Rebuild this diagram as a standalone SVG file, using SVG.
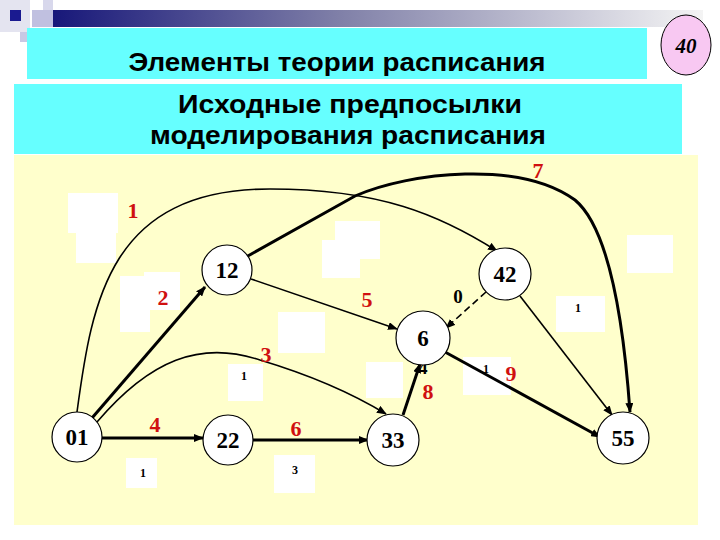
<svg xmlns="http://www.w3.org/2000/svg" width="720" height="540" viewBox="0 0 720 540">
<defs>
<linearGradient id="bar" x1="0" y1="0" x2="1" y2="0">
<stop offset="0" stop-color="#141478"/>
<stop offset="0.45" stop-color="#8080a8"/>
<stop offset="1" stop-color="#f4f4f4"/>
</linearGradient>
<marker id="ah" viewBox="0 0 10 8" refX="9" refY="4" markerWidth="10" markerHeight="8" markerUnits="userSpaceOnUse" orient="auto">
<path d="M0,0 L10,4 L0,8 Z" fill="#000"/>
</marker>
<style>
.node circle{fill:#fff;stroke:#000;stroke-width:1.2}
.node text{font-family:"Liberation Serif",serif;font-weight:bold;font-size:23px;text-anchor:middle;fill:#000}
.lbl{font-family:"Liberation Serif",serif;font-weight:bold;font-size:22px;fill:#d01010;text-anchor:middle}
.sm{font-family:"Liberation Serif",serif;font-weight:bold;font-size:12px;fill:#000;text-anchor:middle}
.wb{fill:#fff}
.thin{fill:none;stroke:#000;stroke-width:1.6}
.thick{fill:none;stroke:#000;stroke-width:3}
.hdr{font-family:"Liberation Sans",Arial,sans-serif;font-weight:bold;font-size:26px;fill:#000;text-anchor:middle}
</style>
</defs>
<rect width="720" height="540" fill="#fff"/>
<!-- header decoration -->
<rect x="43" y="10" width="660" height="17" fill="url(#bar)"/>
<rect x="0" y="0" width="30" height="32" fill="#e4e4f0"/>
<rect x="10" y="10" width="11" height="11" fill="#1a1a90"/>
<rect x="32" y="10" width="21" height="17" fill="#c0c0e0"/>
<rect x="43" y="0" width="10" height="10" fill="#d8d8ec"/>
<rect x="20" y="32" width="8" height="10" fill="#c8c8e4"/>
<rect x="27" y="28" width="620" height="51" fill="#66ffff"/>
<text class="hdr" x="337" y="71" textLength="417" lengthAdjust="spacingAndGlyphs">Элементы теории расписания</text>
<ellipse cx="686" cy="45" rx="25" ry="30" fill="#f8c8f2" stroke="#000" stroke-width="1"/>
<text x="686" y="53" font-family="Liberation Serif,serif" font-style="italic" font-weight="bold" font-size="21" text-anchor="middle">40</text>
<rect x="14" y="84" width="668" height="70" fill="#66ffff"/>
<text class="hdr" x="350" y="113" textLength="344" lengthAdjust="spacingAndGlyphs">Исходные предпосылки</text>
<text class="hdr" x="348" y="144" textLength="396" lengthAdjust="spacingAndGlyphs">моделирования расписания</text>
<!-- background -->
<rect x="14" y="155" width="684" height="370" fill="#ffffcc"/>
<!-- white boxes -->
<g id="whiteboxes">
<rect class="wb" x="68" y="193" width="50" height="40"/>
<rect class="wb" x="76" y="230" width="40" height="33"/>
<rect class="wb" x="120" y="276" width="30" height="56"/>
<rect class="wb" x="144" y="272" width="36" height="38"/>
<rect class="wb" x="322" y="240" width="38" height="38"/>
<rect class="wb" x="335" y="221" width="45" height="38"/>
<rect class="wb" x="278" y="312" width="47" height="41"/>
<rect class="wb" x="627" y="235" width="46" height="38"/>
<rect class="wb" x="556" y="296" width="49" height="36"/>
<rect class="wb" x="228" y="364" width="35" height="37"/>
<rect class="wb" x="366" y="362" width="37" height="36"/>
<rect class="wb" x="463" y="357" width="48" height="38"/>
<rect class="wb" x="126" y="458" width="31" height="30"/>
<rect class="wb" x="274" y="455" width="41" height="38"/>
</g>
<!-- connectors -->
<g id="connectors">
<path class="thin" d="M77,412 C92,300 110,189 270,189 C380,189 440,215 497,251" marker-end="url(#ah)"/>
<path class="thick" d="M92,418 L205,287" marker-end="url(#ah)"/>
<path class="thick" d="M246,257 L355,196 C410,172 520,160 575,200 C605,225 622,300 630,412" marker-end="url(#ah)"/>
<path class="thin" d="M251,279 L397,329" marker-end="url(#ah)"/>
<path class="thin" d="M486,292 L446,328" stroke-dasharray="7,4" marker-end="url(#ah)"/>
<path class="thin" d="M520,296 L612,415" marker-end="url(#ah)"/>
<path class="thick" d="M445,352 L600,437" marker-end="url(#ah)"/>
<path class="thick" d="M403,415 L420,364" marker-end="url(#ah)"/>
<path class="thin" d="M97,422 C150,360 200,340 260,360 C310,375 350,392 386,414" marker-end="url(#ah)"/>
<path class="thick" d="M102,438 L203,438" marker-end="url(#ah)"/>
<path class="thick" d="M253,440 L368,440" marker-end="url(#ah)"/>
</g>
<!-- labels -->
<g id="labels">
<text class="lbl" x="133" y="218">1</text>
<text class="lbl" x="163" y="305">2</text>
<text class="lbl" x="538" y="178">7</text>
<text class="lbl" x="367" y="307">5</text>
<text class="lbl" x="266" y="362">3</text>
<text class="lbl" x="428" y="399">8</text>
<text class="lbl" x="511" y="381">9</text>
<text class="lbl" x="155" y="432">4</text>
<text class="lbl" x="296" y="436">6</text>
<text x="458" y="303" font-family="Liberation Serif,serif" font-weight="bold" font-size="19" text-anchor="middle">0</text>
<text x="423" y="374" font-family="Liberation Serif,serif" font-weight="bold" font-size="18" text-anchor="middle">4</text>
<text class="sm" x="578" y="312">1</text>
<text class="sm" x="244" y="380">1</text>
<text class="sm" x="486" y="373">1</text>
<text class="sm" x="143" y="477">1</text>
<text class="sm" x="295" y="474">3</text>
</g>
<!-- nodes -->
<g id="n01" class="node"><circle cx="77" cy="437" r="25"/><text x="77" y="445">01</text></g>
<g id="n12" class="node"><circle cx="227" cy="270" r="25"/><text x="227" y="278">12</text></g>
<g id="n42" class="node"><circle cx="505" cy="274" r="26"/><text x="505" y="282">42</text></g>
<g id="n6" class="node"><circle cx="423" cy="338" r="27"/><text x="423" y="346">6</text></g>
<g id="n22" class="node"><circle cx="228" cy="440" r="25"/><text x="228" y="448">22</text></g>
<g id="n33" class="node"><circle cx="393" cy="440" r="26"/><text x="393" y="448">33</text></g>
<g id="n55" class="node"><circle cx="623" cy="438" r="26"/><text x="623" y="446">55</text></g>
</svg>
